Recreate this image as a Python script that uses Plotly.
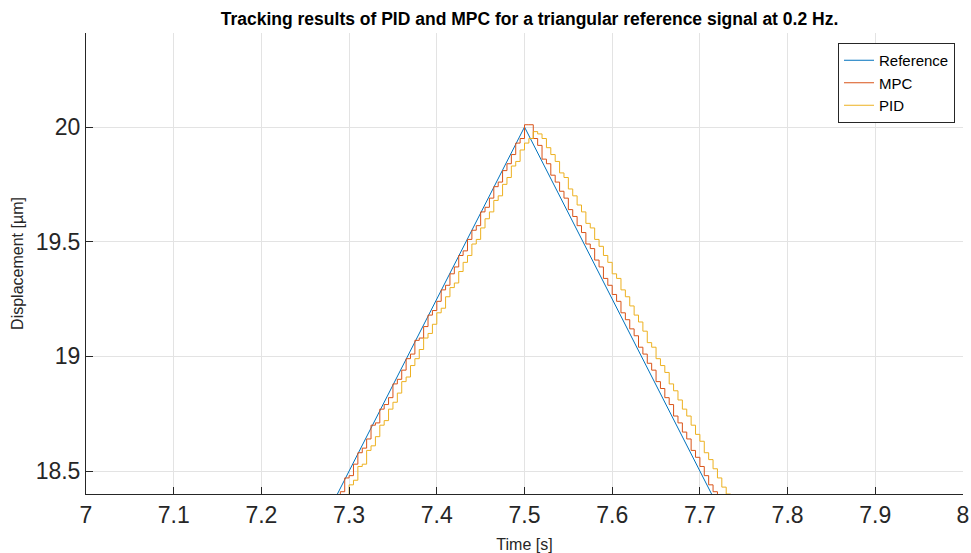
import numpy as np
import plotly.graph_objects as go

# Reference triangle (vertices)
ref_t = [7.0, 7.5, 8.0]
ref_y = [16.25, 20.0, 16.25]

# Sample times of measured responses (5 ms grid)
sample_t = np.round(np.arange(7.27, 7.7401, 0.005), 3)

mpc_y = [18.26, 18.31, 18.33, 18.39, 18.41, 18.47, 18.48, 18.53, 18.58, 18.60,
         18.64, 18.70, 18.71, 18.77, 18.79, 18.82, 18.88, 18.90, 18.94, 18.99,
         19.01, 19.07, 19.08, 19.13, 19.18, 19.20, 19.24, 19.29, 19.31, 19.36,
         19.39, 19.44, 19.46, 19.51, 19.55, 19.57, 19.63, 19.65, 19.69, 19.74,
         19.76, 19.81, 19.84, 19.88, 19.93, 19.95, 20.01, 20.01, 19.95, 19.92,
         19.86, 19.84, 19.79, 19.76, 19.72, 19.69, 19.64, 19.61, 19.57, 19.54,
         19.49, 19.47, 19.42, 19.39, 19.34, 19.31, 19.27, 19.24, 19.19, 19.16,
         19.12, 19.09, 19.04, 19.01, 18.97, 18.94, 18.89, 18.86, 18.82, 18.79,
         18.74, 18.71, 18.67, 18.64, 18.59, 18.56, 18.52, 18.48, 18.44, 18.41,
         18.36, 18.33, 18.29, 18.25, 18.21]

pid_y = [18.20, 18.24, 18.27, 18.33, 18.35, 18.38, 18.44, 18.46, 18.52, 18.53,
         18.59, 18.61, 18.65, 18.70, 18.72, 18.77, 18.80, 18.84, 18.89, 18.91,
         18.96, 18.99, 19.03, 19.08, 19.10, 19.14, 19.19, 19.21, 19.26, 19.30,
         19.32, 19.37, 19.41, 19.44, 19.49, 19.51, 19.56, 19.60, 19.63, 19.68,
         19.70, 19.75, 19.78, 19.83, 19.85, 19.90, 19.93, 19.95, 19.98, 19.97,
         19.95, 19.91, 19.88, 19.85, 19.80, 19.78, 19.73, 19.70, 19.66, 19.63,
         19.58, 19.56, 19.51, 19.48, 19.44, 19.41, 19.36, 19.34, 19.29, 19.26,
         19.22, 19.18, 19.15, 19.11, 19.06, 19.04, 18.99, 18.96, 18.93, 18.88,
         18.85, 18.81, 18.77, 18.74, 18.70, 18.66, 18.63, 18.58, 18.55, 18.51,
         18.47, 18.43, 18.40, 18.36, 18.32]

x_ticks = [7, 7.1, 7.2, 7.3, 7.4, 7.5, 7.6, 7.7, 7.8, 7.9, 8]
x_tick_labels = ["7", "7.1", "7.2", "7.3", "7.4", "7.5", "7.6", "7.7", "7.8", "7.9", "8"]
y_ticks = [18.5, 19, 19.5, 20]
y_tick_labels = ["18.5", "19", "19.5", "20"]

FONT = "Liberation Sans, Arial, sans-serif"
AX = "#262626"
GRID = "#e3e3e3"

fig = go.Figure()
fig.add_trace(go.Scatter(x=ref_t, y=ref_y, mode="lines", name="Reference",
                         line=dict(color="#0072BD", width=1)))
fig.add_trace(go.Scatter(x=sample_t, y=mpc_y, mode="lines", name="MPC",
                         line=dict(color="#D95319", width=1, shape="hv")))
fig.add_trace(go.Scatter(x=sample_t, y=pid_y, mode="lines", name="PID",
                         line=dict(color="#EDB120", width=1, shape="hv")))

fig.update_layout(
    width=971, height=553,
    margin=dict(l=86, r=8, t=33, b=59, autoexpand=False),
    paper_bgcolor="white", plot_bgcolor="white",
    font=dict(family=FONT, color=AX),
    title=dict(text="<b>Tracking results of PID and MPC for a triangular reference signal at 0.2 Hz.</b>",
               x=529.5 / 971, xanchor="center", y=1 - 19 / 553, yanchor="middle",
               font=dict(size=17.5, color="black", family=FONT)),
    showlegend=True,
    legend=dict(x=(955 - 86) / 877, xanchor="right", y=(494 - 43) / 461, yanchor="top",
                bgcolor="white", bordercolor=AX, borderwidth=1,
                font=dict(size=15, color="black", family=FONT),
                tracegroupgap=0, itemwidth=30),
)
fig.update_xaxes(range=[7, 8], tickvals=x_ticks, ticktext=x_tick_labels,
                 showgrid=True, gridcolor=GRID, gridwidth=1,
                 showline=True, linecolor=AX, linewidth=1,
                 ticks="inside", ticklen=7, tickcolor=AX,
                 tickfont=dict(size=23, color=AX, family=FONT),
                 zeroline=False, mirror=False, automargin=False,
                 title=dict(text="Time [s]", font=dict(size=16, color=AX, family=FONT), standoff=12))
fig.update_yaxes(range=[18.4, 20.41], tickvals=y_ticks, ticktext=y_tick_labels,
                 showgrid=True, gridcolor=GRID, gridwidth=1,
                 showline=True, linecolor=AX, linewidth=1,
                 ticks="inside", ticklen=7, tickcolor=AX,
                 tickfont=dict(size=23, color=AX, family=FONT),
                 zeroline=False, mirror=False, automargin=False,
                 title=dict(text="Displacement [µm]", font=dict(size=16, color=AX, family=FONT), standoff=8))

fig.write_html("out.html")
